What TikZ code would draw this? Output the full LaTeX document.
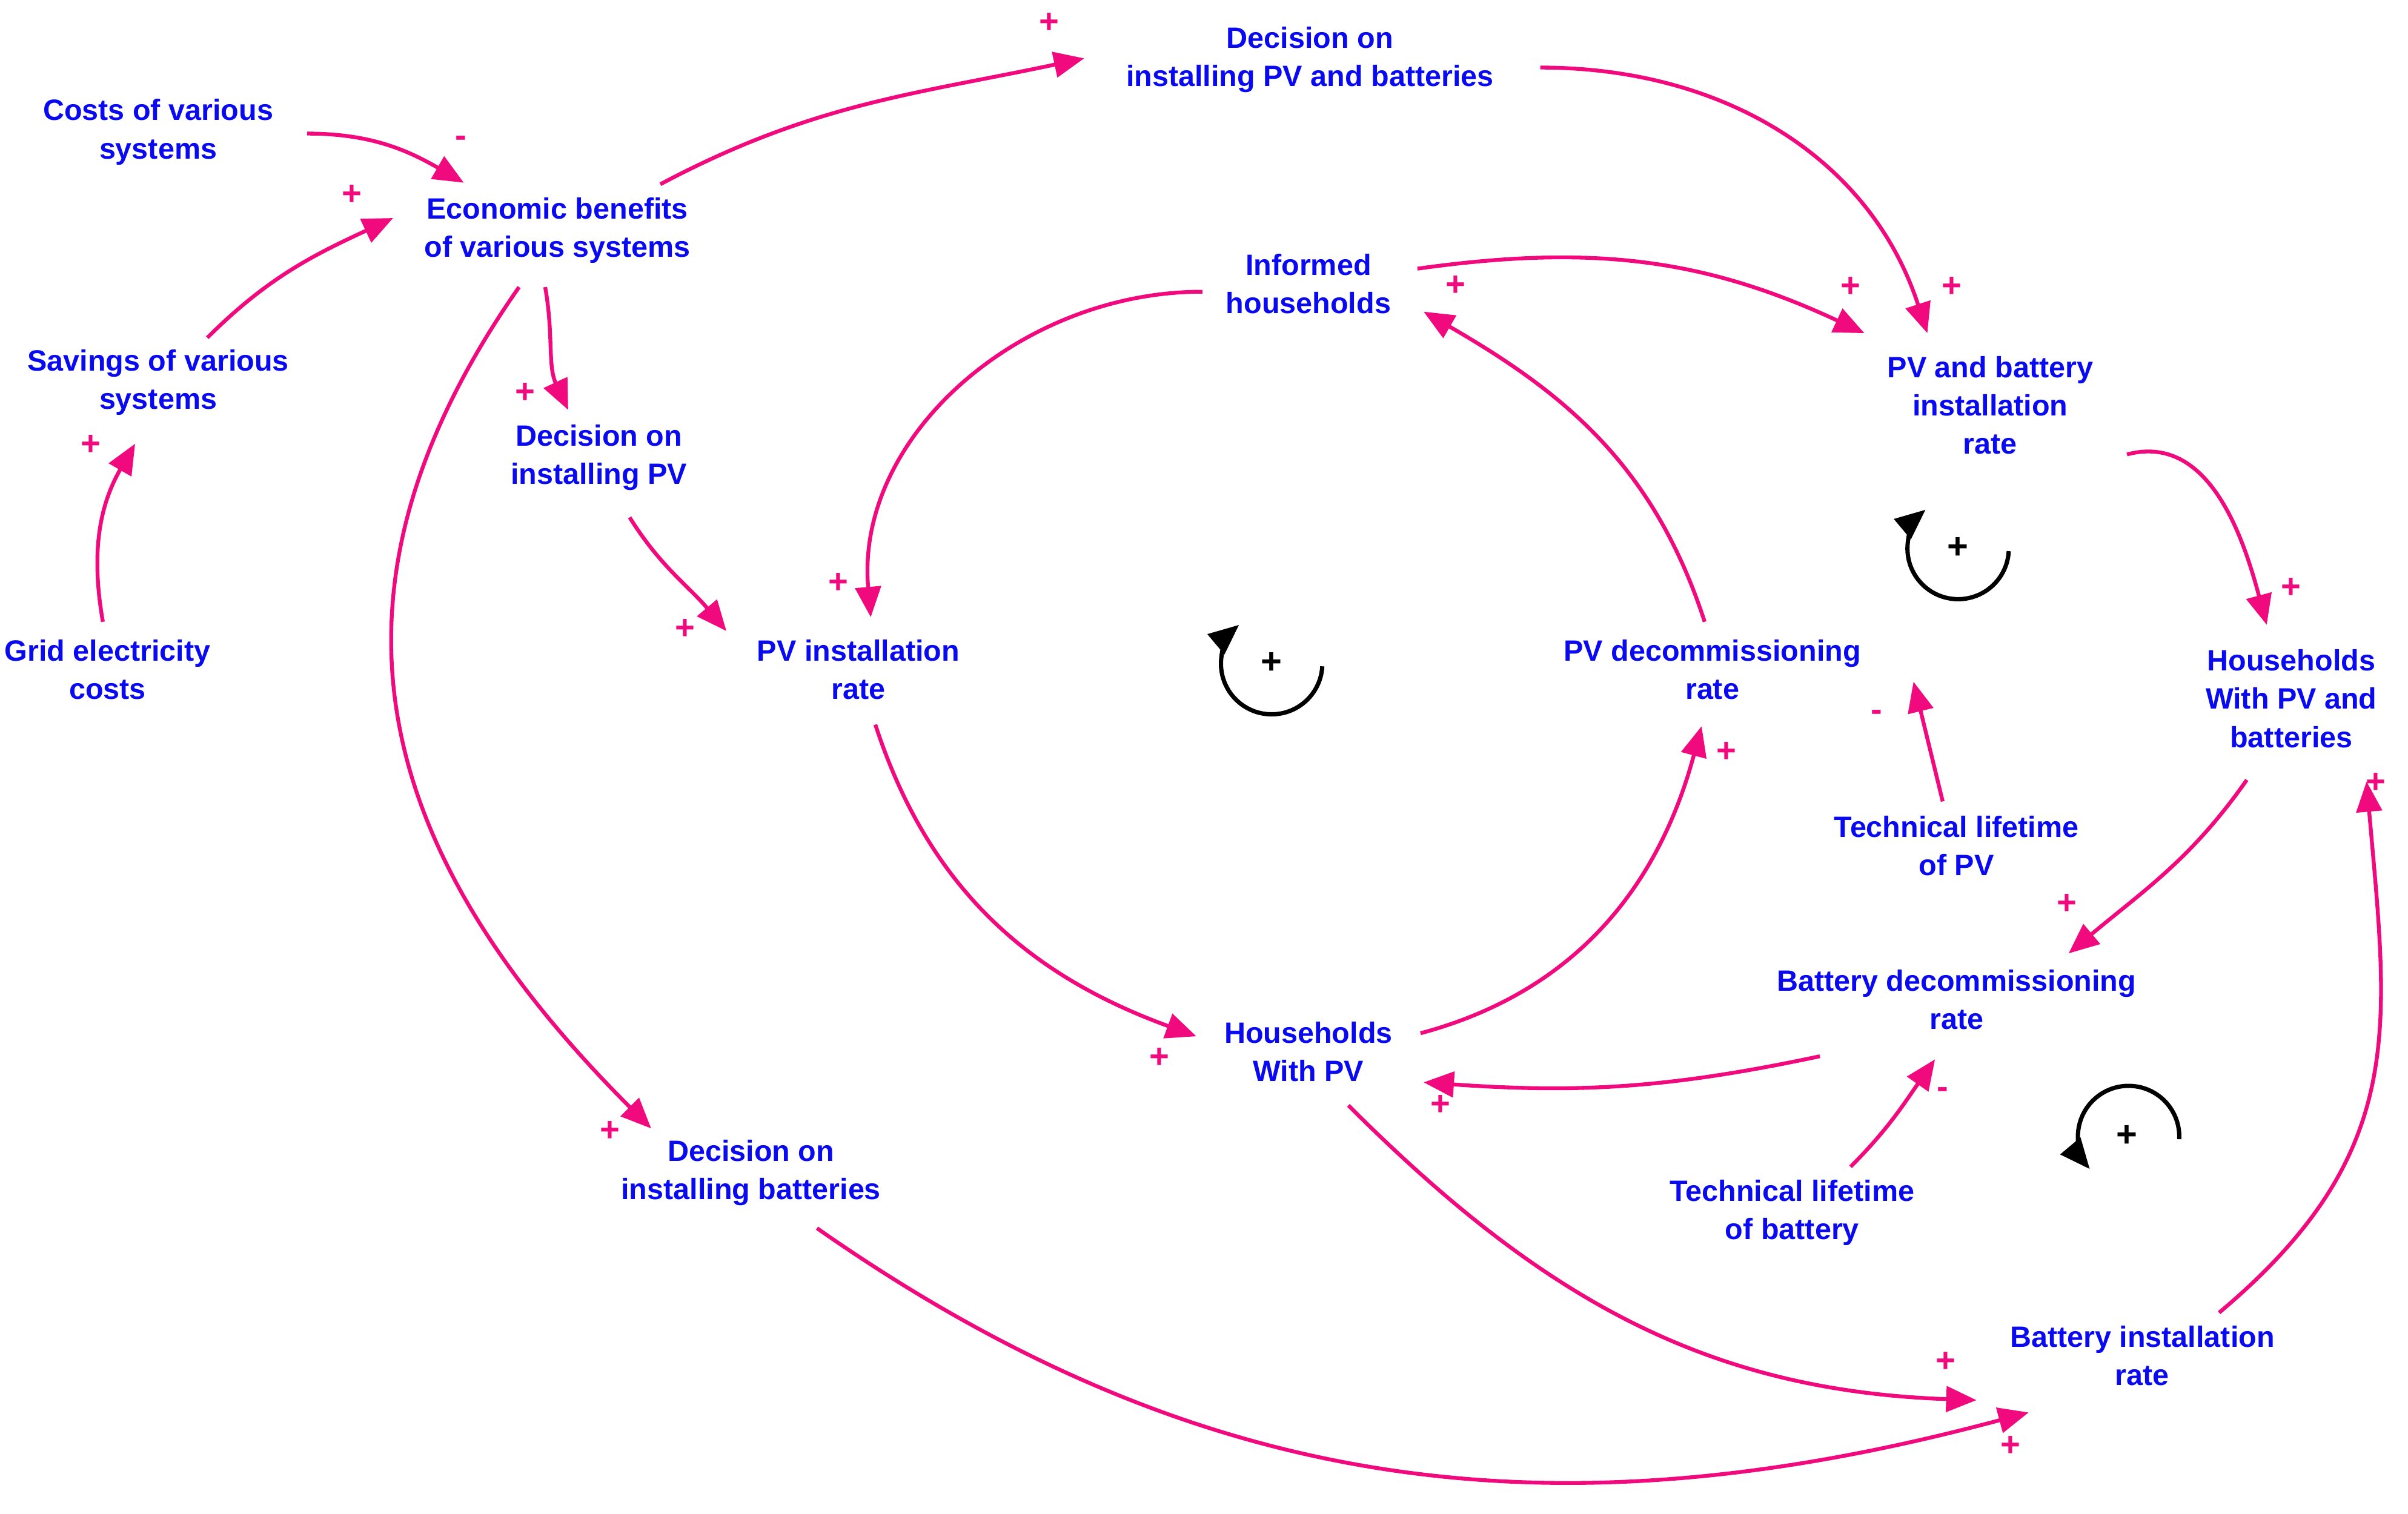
\documentclass[tikz,border=0pt]{standalone}
\usepackage{fontspec}
\setmainfont{Liberation Sans}
\usetikzlibrary{arrows.meta}
\definecolor{mag}{RGB}{240,10,125}
\definecolor{tblue}{RGB}{10,10,240}
\begin{document}
\begin{tikzpicture}[x=0.02535cm,y=-0.02535cm,
 v/.style={text=tblue,font=\fontsize{13.8}{18}\selectfont\bfseries,align=center,inner sep=3pt},
 c/.style={draw=mag,line width=1.8pt,-{Triangle[length=0.5cm,width=0.42cm]}},
 sg/.style={text=mag,font=\fontsize{16}{16}\selectfont\bfseries,inner sep=0pt},
 lp/.style={draw=black,line width=2pt,-{Triangle[length=0.5cm,width=0.42cm]}}]
\useasboundingbox (0,0) rectangle (1568,986);
\node[v] (costs) at (103,86) {Costs of various\\systems};
\node[v] (econ) at (363,150) {Economic benefits\\of various systems};
\node[v] (sav) at (103,249) {Savings of various\\systems};
\node[v] (grid) at (70,436) {Grid electricity\\costs};
\node[v] (dpvb) at (853,39) {Decision on\\installing PV and batteries};
\node[v] (inf) at (852,185) {Informed\\households};
\node[v] (pvbr) at (1296,264) {PV and battery\\installation\\rate};
\node[v] (dpv) at (390,298) {Decision on\\installing PV};
\node[v] (pvir) at (559,436) {PV installation\\rate};
\node[v] (pvdr) at (1115,436) {PV decommissioning\\rate};
\node[v] (hpvb) at (1492,455) {Households\\With PV and\\batteries};
\node[v] (tlpv) at (1274,551) {Technical lifetime\\of PV};
\node[v] (bdr) at (1274,651) {Battery decommissioning\\rate};
\node[v] (hpv) at (852,685) {Households\\With PV};
\node[v] (dbat) at (489,764) {Decision on\\installing batteries};
\node[v] (tlb) at (1167,790) {Technical lifetime\\of battery};
\node[v] (bir) at (1395,883) {Battery installation\\rate};

% connector end points
\coordinate (a1) at (200,87);   \coordinate (b1) at (302,119);
\coordinate (a2) at (135,220);  \coordinate (b2) at (256,142);
\coordinate (a3) at (67,405);   \coordinate (b3) at (88,289);
\coordinate (a4) at (430,120);  \coordinate (b4) at (706,38);
\coordinate (a5) at (355,187);  \coordinate (b5) at (370,267);
\coordinate (a6) at (338,187);  \coordinate (b6) at (424,735);
\coordinate (a7) at (1003,44);  \coordinate (b7) at (1255,217);
\coordinate (a8) at (923,175);  \coordinate (b8) at (1214,217);
\coordinate (a9) at (783,190);  \coordinate (b9) at (567,402);
\coordinate (a10) at (410,337); \coordinate (b10) at (473,411);
\coordinate (a11) at (570,472); \coordinate (b11) at (779,675);
\coordinate (a12) at (925,673); \coordinate (b12) at (1108,473);
\coordinate (a13) at (1110,405);\coordinate (b13) at (927,203);
\coordinate (a14) at (1385,296);\coordinate (b14) at (1476,407);
\coordinate (a15) at (1265,522);\coordinate (b15) at (1246,444);
\coordinate (a16) at (1463,508);\coordinate (b16) at (1347,621);
\coordinate (a17) at (1185,688);\coordinate (b17) at (927,705);
\coordinate (a18) at (1205,760);\coordinate (b18) at (1260,690);
\coordinate (a19) at (878,720); \coordinate (b19) at (1287,912);
\coordinate (a20) at (532,800); \coordinate (b20) at (1321,920);
\coordinate (a21) at (1445,855);\coordinate (b21) at (1541,509);

\draw[c] (a1) to[out=0,in=150] (b1);
\draw[c] (a2) to[out=45,in=205] (b2);
\draw[c] (a3) to[out=100,in=240] (b3);
\draw[c] (a4) to[out=28,in=192] (b4);
\draw[c] (a5) to[out=-80,in=115] (b5);
\draw[c] (a6) to[out=-125,in=135,looseness=1.15] (b6);
\draw[c] (a7) to[out=0,in=108] (b7);
\draw[c] (a8) to[out=8,in=155] (b8);
\draw[c] (a9) to[out=180,in=95] (b9);
\draw[c] (a10) to[out=-58,in=130] (b10);
\draw[c] (a11) to[out=-72,in=160] (b11);
\draw[c] (a12) to[out=15,in=-105] (b12);
\draw[c] (a13) to[out=108,in=-30] (b13);
\draw[c] (a14) to[out=15,in=105] (b14);
\draw[c] (a15) -- (b15);
\draw[c] (a16) to[out=-125,in=40] (b16);
\draw[c] (a17) to[out=192,in=-4] (b17);
\draw[c] (a18) to[out=45,in=-125] (b18);
\draw[c] (a19) to[out=-45,in=178] (b19);
\draw[c] (a20) to[out=-35,in=195] (b20);
\draw[c] (a21) to[out=40,in=-85,looseness=1.15] (b21);

\node[sg] (s1) at (300,92) {-};
\node[sg] (s2) at (229,127) {+};
\node[sg] (s3) at (59,290) {+};
\node[sg] (s4) at (683,15) {+};
\node[sg] (s5) at (342,256) {+};
\node[sg] (s6) at (397,737) {+};
\node[sg] (s7) at (1271,187) {+};
\node[sg] (s8) at (1205,187) {+};
\node[sg] (s9) at (546,380) {+};
\node[sg] (s10) at (446,410) {+};
\node[sg] (s11) at (755,689) {+};
\node[sg] (s12) at (1124,490) {+};
\node[sg] (s13) at (948,186) {+};
\node[sg] (s14) at (1492,383) {+};
\node[sg] (s15) at (1222,466) {-};
\node[sg] (s16) at (1346,589) {+};
\node[sg] (s17) at (938,720) {+};
\node[sg] (s18) at (1265,712) {-};
\node[sg] (s19) at (1267,887) {+};
\node[sg] (s20) at (1309,942) {+};
\node[sg] (s21) at (1547,510) {+};

\node[font=\fontsize{17}{17}\selectfont\bfseries,inner sep=0pt] (l1) at (828,432) {+};
\draw[lp] (l1) ++(33,2) arc[start angle=3,end angle=230,radius=33];
\node[font=\fontsize{17}{17}\selectfont\bfseries,inner sep=0pt] (l2) at (1275,357) {+};
\draw[lp] (l2) ++(33,2) arc[start angle=3,end angle=230,radius=33];
\node[font=\fontsize{17}{17}\selectfont\bfseries,inner sep=0pt] (l3) at (1385,740) {+};
\draw[lp] (l3) ++(34,2) arc[start angle=3,end angle=-220,radius=33];
\end{tikzpicture}
\end{document}
